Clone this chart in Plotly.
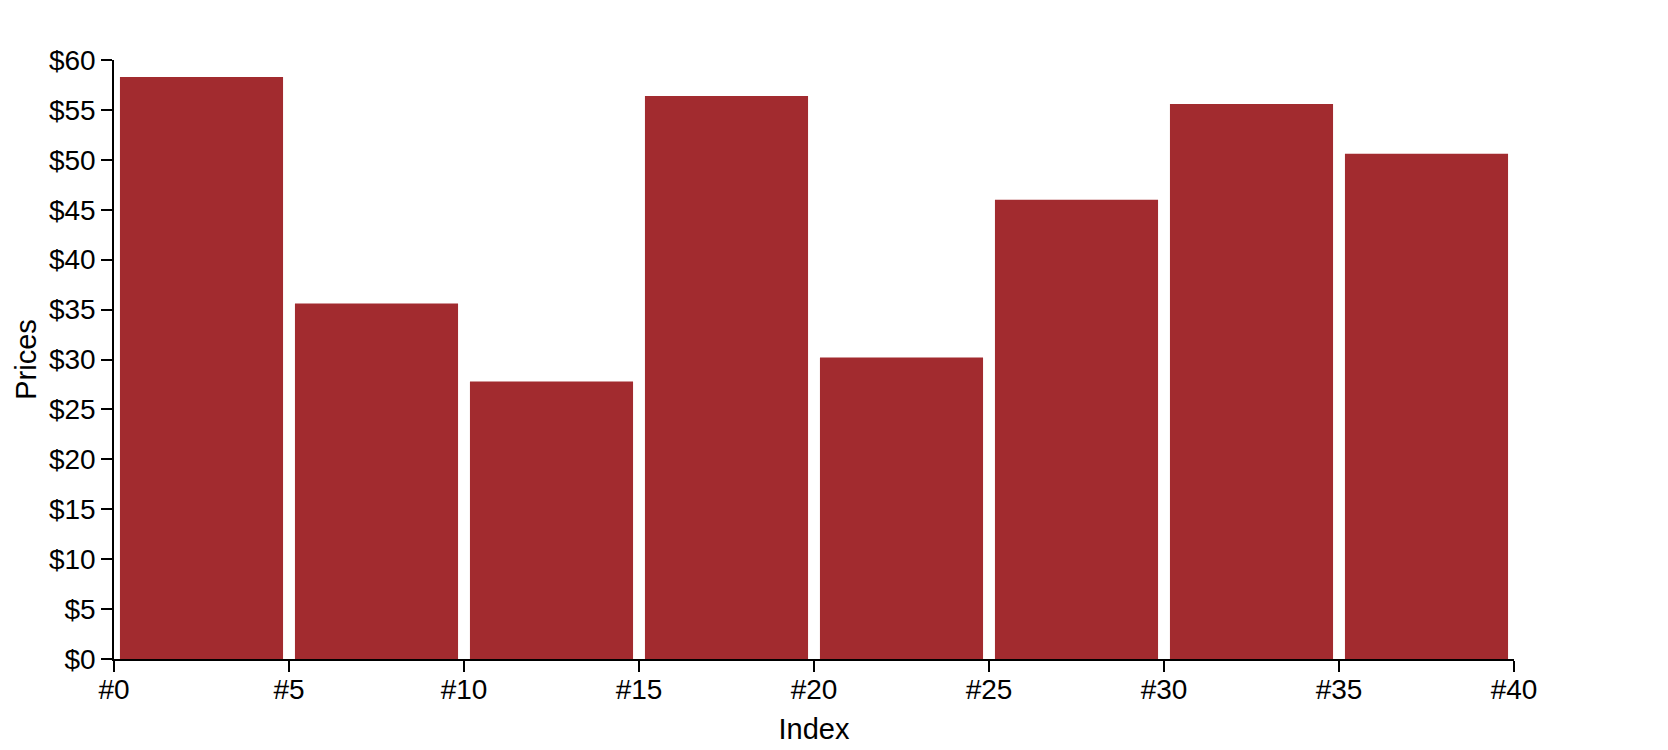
import plotly.graph_objects as go

bin_starts = [0, 5, 10, 15, 20, 25, 30, 35]
prices = [58.3, 35.6, 27.8, 56.4, 30.2, 46.0, 55.6, 50.6]
bin_size = 5
x_ticks = [0, 5, 10, 15, 20, 25, 30, 35, 40]
y_ticks = [0, 5, 10, 15, 20, 25, 30, 35, 40, 45, 50, 55, 60]

centers = [s + bin_size / 2 for s in bin_starts]

FONT = "Liberation Sans, Arial, Helvetica, sans-serif"

fig = go.Figure(go.Bar(
    x=centers,
    y=prices,
    width=bin_size * 0.932,
    marker=dict(color="#a22b2f", line=dict(width=0)),
    hovertemplate="#%{x}<br>$%{y}<extra></extra>",
))

axis_common = dict(
    showgrid=False,
    zeroline=False,
    showline=True,
    linecolor="black",
    linewidth=1.5,
    ticks="outside",
    ticklen=11,
    tickwidth=1.5,
    tickcolor="black",
    automargin=False,
    tickfont=dict(family=FONT, size=28, color="black"),
    title_font=dict(family=FONT, size=29, color="black"),
)

fig.update_layout(
    width=1668,
    height=750,
    margin=dict(l=106, r=162, t=52, b=99),
    plot_bgcolor="white",
    paper_bgcolor="white",
    showlegend=False,
    font=dict(family=FONT, color="black"),
    xaxis=dict(
        range=[0, 40],
        tickmode="array",
        tickvals=x_ticks,
        ticktext=["#%d" % v for v in x_ticks],
        ticklabelstandoff=-6,
        title=dict(text="Index", standoff=14),
        **axis_common,
    ),
    yaxis=dict(
        range=[0, 60],
        tickmode="array",
        tickvals=y_ticks,
        ticktext=["$%d" % v for v in y_ticks],
        title=dict(text="Prices", standoff=4),
        **axis_common,
    ),
)

fig.write_html("out.html")
